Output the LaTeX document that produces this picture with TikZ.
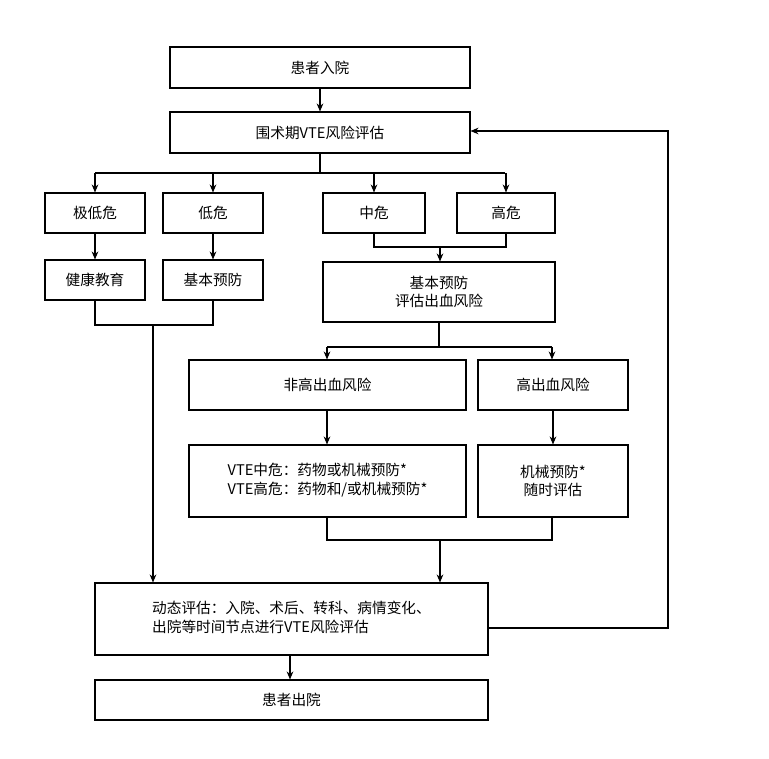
\documentclass[tikz,border=0pt]{standalone}
\usepackage{fontspec}
\setmainfont{Liberation Serif}
\newfontfamily\cjk{Noto Sans CJK SC}
\usetikzlibrary{arrows.meta}
\begin{document}
\begin{tikzpicture}[x=0.75pt,y=-0.75pt,
  bx/.style={draw,line width=0.8pt,inner sep=0pt,font=\cjk\fontsize{11}{14}\selectfont,align=center},
  ln/.style={line width=0.8pt},
  ar/.style={line width=0.8pt,-{Stealth[length=6pt,width=5pt]}}]
\useasboundingbox (0,0) rectangle (769,759);
\newcommand\B[6]{\node[bx,minimum width={(#4-#2)*0.75pt},minimum height={(#5-#3)*0.75pt}] (#1) at ({(#2+#4)/2},{(#3+#5)/2}) {#6};}
\B{a}{170}{47}{470}{88}{患者入院}
\B{b}{170}{112}{470}{153}{围术期VTE风险评估}
\B{c1}{45}{193}{145}{233}{极低危}
\B{c2}{163}{193}{263}{233}{低危}
\B{c3}{323}{193}{425}{233}{中危}
\B{c4}{457}{193}{555}{233}{高危}
\B{d1}{45}{260}{145}{300}{健康教育}
\B{d2}{163}{260}{263}{300}{基本预防}
\B{e}{323}{262}{555}{322}{基本预防\\评估出血风险}
\B{f1}{189}{360}{466}{410}{非高出血风险}
\B{f2}{478}{360}{628}{410}{高出血风险}
\B{g1}{189}{445}{466}{517}{\begin{tabular}{@{}l@{}}VTE中危：药物或机械预防*\\VTE高危：药物和/或机械预防*\end{tabular}}
\B{g2}{478}{445}{628}{517}{机械预防*\\随时评估}
\B{h}{95}{583}{488}{655}{\begin{tabular}{@{}l@{}}动态评估：入院、术后、转科、病情变化、\\出院等时间节点进行VTE风险评估\end{tabular}}
\B{k}{95}{680}{488}{720}{患者出院}
\coordinate (j1) at (320,173);
\draw[ar] (a) -- (b);
\draw[ln] (b.south) -- (j1);
\draw[ln] (95,173) -- (505,173);
\draw[ar] (95,173) -- (c1.north);
\draw[ar] (213,173) -- (c2.north);
\draw[ar] (374,173) -- (c3.north);
\draw[ar] (506,173) -- (c4.north);
\draw[ar] (c1) -- (d1);
\draw[ar] (c2) -- (d2);
\draw[ln] (c3.south) -- (374,247) -- (506,247) -- (c4.south);
\draw[ar] (440,247) -- (e.north -| 440,0);
\draw[ln] (d1.south) -- (95,325) -- (213,325) -- (d2.south);
\draw[ar] (153,325) -- (h.north -| 153,0);
\draw[ln] (e.south) -- (439,347);
\draw[ln] (327,347) -- (552,347);
\draw[ar] (327,347) -- (f1.north -| 327,0);
\draw[ar] (552,347) -- (f2.north -| 552,0);
\draw[ar] (f1.south -| 327,0) -- (g1.north -| 327,0);
\draw[ar] (f2) -- (g2);
\draw[ln] (g1.south -| 327,0) -- (327,540) -- (552,540) -- (g2.south -| 552,0);
\draw[ar] (440,540) -- (h.north -| 440,0);
\draw[ar] (h.south -| 290,0) -- (k.north -| 290,0);
\draw[ar] (h.east |- 0,628) -- (668,628) -- (668,131) -- (b.east |- 0,131);
\end{tikzpicture}
\end{document}
